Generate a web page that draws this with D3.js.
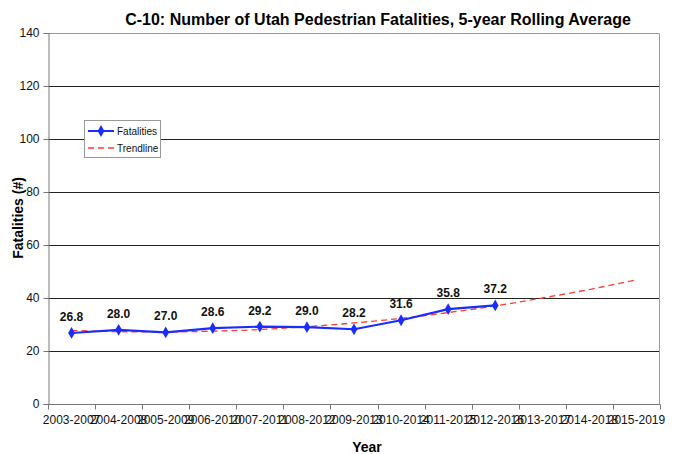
<!DOCTYPE html>
<html>
<head>
<meta charset="utf-8">
<script src="https://cdn.jsdelivr.net/npm/d3@7"></script>
<style>
  body { margin: 0; background: #fff; }
  text { font-family: "Liberation Sans", Arial, sans-serif; }
</style>
</head>
<body>
<svg id="chart" width="678" height="454"></svg>
<script>
// data
var periods = ["2003-2007", "2004-2008", "2005-2009", "2006-2010", "2007-2011", "2008-2012",
  "2009-2013", "2010-2014", "2011-2015", "2012-2016", "2013-2017", "2014-2018", "2015-2019"];
var fatalities = [26.8, 28.0, 27.0, 28.6, 29.2, 29.0, 28.2, 31.6, 35.8, 37.2];
var trendline = [27.8, 27.3, 27.2, 27.5, 28.1, 29.2, 30.6, 32.3, 34.5, 37.0, 40.0, 43.2, 46.9];
var yTicks = [0, 20, 40, 60, 80, 100, 120, 140];

var margin = { top: 33, right: 18, bottom: 50, left: 48 };
var width = 678 - margin.left - margin.right;
var height = 454 - margin.top - margin.bottom;

var svg = d3.select("#chart");
var g = svg.append("g").attr("transform", "translate(" + margin.left + "," + margin.top + ")");

var x = d3.scaleBand().domain(periods).range([0, width]);
var y = d3.scaleLinear().domain([0, 140]).range([height, 0]);
var cx = function (i) { return x(periods[i]) + x.bandwidth() / 2; };

// gridlines
g.selectAll(".grid").data(yTicks.filter(function (d) { return d > 0 && d < 140; }))
  .enter().append("line")
  .attr("x1", 0).attr("x2", width)
  .attr("y1", function (d) { return Math.round(y(d)) + 0.5; })
  .attr("y2", function (d) { return Math.round(y(d)) + 0.5; })
  .attr("stroke", "#222").attr("stroke-width", 1);

// frame top/right
g.append("path")
  .attr("d", "M0.5,0.5H" + (width - 0.5) + "V" + height)
  .attr("fill", "none").attr("stroke", "#999");

// y axis
var yAxis = g.append("g").attr("transform", "translate(0.5,0)")
  .call(d3.axisLeft(y).tickValues(yTicks).tickSize(5).tickPadding(4));
yAxis.selectAll("path, line").attr("stroke", "#777");
yAxis.selectAll("text").attr("font-size", 12).attr("fill", "#111")
  .style("font-family", "Liberation Sans, Arial, sans-serif");

// x axis (ticks on band edges)
var xAxis = g.append("g").attr("transform", "translate(0," + (height + 0.5) + ")");
xAxis.append("line").attr("x1", 0).attr("x2", width).attr("stroke", "#777");
xAxis.selectAll(".tk").data(periods.concat(["end"])).enter().append("line")
  .attr("x1", function (d, i) { return Math.round(i * x.step()) + 0.5; })
  .attr("x2", function (d, i) { return Math.round(i * x.step()) + 0.5; })
  .attr("y1", 0).attr("y2", 5).attr("stroke", "#777");
xAxis.selectAll(".lbl").data(periods).enter().append("text")
  .attr("x", function (d, i) { return cx(i); })
  .attr("y", 19)
  .attr("text-anchor", "middle")
  .attr("font-size", 12).attr("fill", "#111")
  .text(function (d) { return d; });

// trendline
var line = d3.line()
  .x(function (d, i) { return cx(i); })
  .y(function (d) { return y(d); })
  .curve(d3.curveMonotoneX);
g.append("path").datum(trendline)
  .attr("d", line)
  .attr("fill", "none").attr("stroke", "#ff3b2f")
  .attr("stroke-width", 1.3).attr("stroke-dasharray", "6,4");

// fatalities
g.append("path").datum(fatalities)
  .attr("d", d3.line().x(function (d, i) { return cx(i); }).y(function (d) { return y(d); }))
  .attr("fill", "none").attr("stroke", "#1a2cff").attr("stroke-width", 2.2);

var diamond = d3.symbol().type(d3.symbolDiamond).size(40);
g.selectAll(".pt").data(fatalities).enter().append("path")
  .attr("d", diamond)
  .attr("transform", function (d, i) { return "translate(" + cx(i) + "," + y(d) + ")"; })
  .attr("fill", "#1a2cff");

g.selectAll(".val").data(fatalities).enter().append("text")
  .attr("x", function (d, i) { return cx(i); })
  .attr("y", function (d) { return y(d) - 12; })
  .attr("text-anchor", "middle")
  .attr("font-size", 12).attr("font-weight", "bold").attr("fill", "#111")
  .text(function (d) { return d.toFixed(1); });

// legend
var lg = svg.append("g").attr("transform", "translate(84,120)");
lg.append("rect").attr("x", 0.5).attr("y", 0.5).attr("width", 76).attr("height", 37)
  .attr("fill", "#fff").attr("stroke", "#999");
lg.append("line").attr("x1", 4).attr("x2", 30).attr("y1", 11).attr("y2", 11)
  .attr("stroke", "#1a2cff").attr("stroke-width", 2);
lg.append("path").attr("d", diamond).attr("transform", "translate(17,11)").attr("fill", "#1a2cff");
lg.append("text").attr("x", 33).attr("y", 15).attr("font-size", 10).attr("fill", "#111").text("Fatalities");
lg.append("line").attr("x1", 4).attr("x2", 30).attr("y1", 28).attr("y2", 28)
  .attr("stroke", "#ff3b2f").attr("stroke-width", 1.3).attr("stroke-dasharray", "6,4");
lg.append("text").attr("x", 33).attr("y", 32).attr("font-size", 10).attr("fill", "#111").text("Trendline");

// titles
svg.append("text").attr("x", 378).attr("y", 25).attr("text-anchor", "middle")
  .attr("font-size", 16).attr("font-weight", "bold").attr("fill", "#000")
  .text("C-10: Number of Utah Pedestrian Fatalities, 5-year Rolling Average");
svg.append("text").attr("x", 367).attr("y", 452).attr("text-anchor", "middle")
  .attr("font-size", 14).attr("font-weight", "bold").attr("fill", "#000").text("Year");
svg.append("text").attr("transform", "translate(23,218) rotate(-90)").attr("text-anchor", "middle")
  .attr("font-size", 14).attr("font-weight", "bold").attr("fill", "#000").text("Fatalities (#)");
</script>
</body>
</html>
